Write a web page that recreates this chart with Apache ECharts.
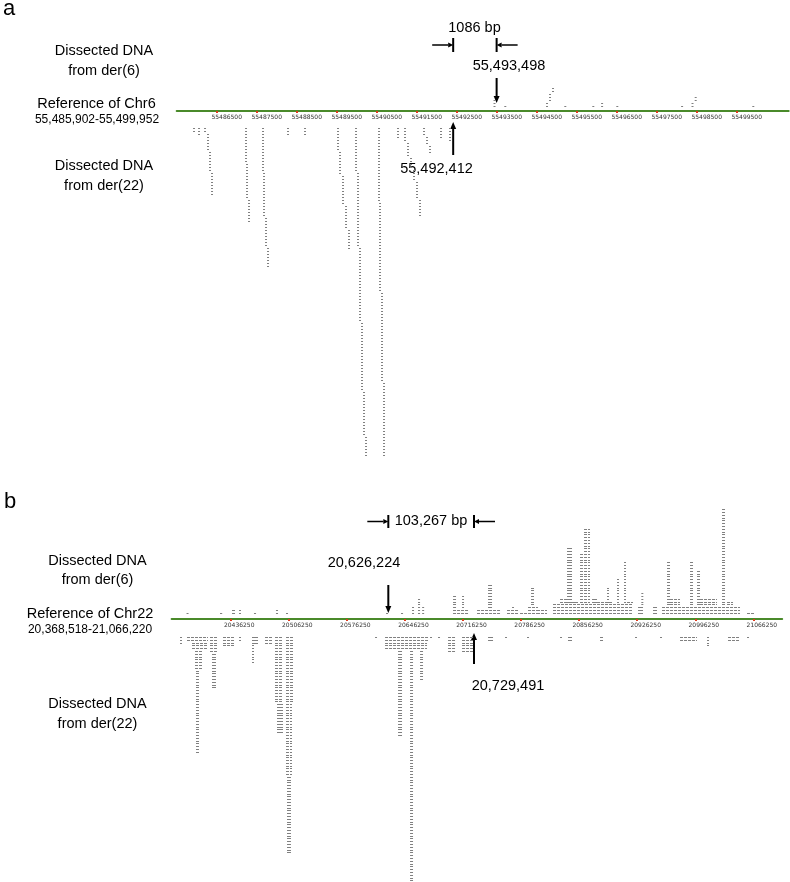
<!DOCTYPE html>
<html><head><meta charset="utf-8">
<script src="https://cdn.jsdelivr.net/npm/echarts@6/dist/echarts.min.js"></script>
<style>html,body{margin:0;padding:0;background:#fff}#c{width:790px;height:882px}</style>
</head><body><div id="c"></div>
<script>
// ---------- data ----------
const ticksA = [55486500,55487500,55488500,55489500,55490500,55491500,55492500,55493500,55494500,55495500,55496500,55497500,55498500,55499500];
const ticksB = [20436250,20506250,20576250,20646250,20716250,20786250,20856250,20926250,20996250,21066250];
const regionA = "55,485,902-55,499,952";
const regionB = "20,368,518-21,066,220";
const bpA = {der6: 55493498, der22: 55492412, gapLabel: "1086 bp"};
const bpB = {der6: 20626224, der22: 20729491, gapLabel: "103,267 bp"};

// reads: [start, end, firstRow, lastRow]  (rows counted away from the reference line)
const readsA_der6 = [
  [55493420,55493470,1,3],[55493690,55493740,1,1],
  [55494733,55494783,1,2],[55494808,55494858,3,5],[55494883,55494933,6,7],
  [55495190,55495240,1,1],[55495890,55495940,1,1],[55496110,55496160,1,2],[55496490,55496540,1,1],
  [55498110,55498160,1,1],[55498370,55498420,1,2],[55498450,55498500,3,4],[55499890,55499940,1,1]
];
const readsA_der22 = [
  [55485908,55485958,1,2],[55486033,55486083,1,3],[55486183,55486233,1,2],
  [55486258,55486308,3,8],[55486308,55486358,9,15],[55486358,55486408,16,23],
  [55487208,55487258,1,12],[55487233,55487283,13,24],[55487283,55487333,25,32],
  [55487633,55487683,1,15],[55487658,55487708,16,30],[55487708,55487758,31,40],[55487758,55487808,41,47],
  [55488258,55488308,1,3],[55488683,55488733,1,3],
  [55489508,55489558,1,8],[55489558,55489608,9,16],[55489633,55489683,17,26],[55489708,55489758,27,34],[55489783,55489833,35,41],
  [55489958,55490008,1,15],[55490008,55490058,16,40],[55490058,55490108,41,65],[55490108,55490158,66,88],[55490158,55490208,89,103],[55490208,55490258,104,110],
  [55490533,55490583,1,25],[55490558,55490608,26,55],[55490608,55490658,56,85],[55490658,55490708,86,110],
  [55491008,55491058,1,4],
  [55491183,55491233,1,5],[55491258,55491308,6,10],[55491333,55491383,11,14],[55491408,55491458,15,18],[55491483,55491533,19,24],[55491558,55491608,25,30],
  [55491658,55491708,1,3],[55491733,55491783,4,6],[55491808,55491858,7,9],
  [55492083,55492133,1,4],[55492308,55492358,1,5]
];
const readsB_der6 = [
  [20383000,20385000,1,1],[20423352,20426000,1,1],[20437817,20441433,1,2],[20446255,20448665,1,2],[20464300,20466800,1,1],
  [20490800,20493300,1,2],[20502900,20505300,1,1],[20623500,20625900,1,1],[20641500,20644000,1,1],
  [20654814,20657200,1,3],[20662000,20664500,1,6],[20667000,20669300,1,3],
  [20704235,20722317,1,2],[20704235,20707852,3,7],[20715084,20717495,3,7],
  [20733165,20760889,1,2],[20746424,20751246,3,11],
  [20769302,20782561,1,2],[20775329,20777740,3,3],[20784972,20793410,1,1],
  [20794615,20806669,1,3],[20798231,20801848,4,10],[20805464,20817518,1,2],
  [20824750,20921182,1,4],
  [20833188,20841626,5,6],[20841626,20847653,5,24],[20847653,20854885,5,5],[20857296,20860912,5,22],[20862117,20869350,5,31],
  [20871760,20877787,5,6],[20877787,20897074,5,5],[20889840,20892251,5,10],[20901895,20904306,5,13],[20910333,20912744,5,19],[20913949,20921182,5,5],
  [20927209,20933236,1,3],[20931200,20933236,4,8],[20945290,20950112,1,3],
  [20956141,21050160,1,3],[20962168,20965782,4,19],[20965782,20977836,4,6],
  [20989890,20993506,4,19],[20998328,21001944,4,16],[21001944,21022436,4,6],
  [21028463,21032080,4,38],[21034490,21041723,4,5],[21058598,21068241,1,1]
];
const readsB_der22 = [
  [20375136,20377547,1,3],[20383574,20408887,1,2],[20389601,20408887,3,5],
  [20393217,20401655,6,12],[20394400,20398039,13,42],
  [20411298,20419736,1,6],[20413700,20418500,7,19],
  [20426968,20441433,1,4],[20446255,20448665,1,2],
  [20461925,20469157,1,3],[20461925,20464336,4,10],[20477595,20486033,1,3],
  [20489649,20499292,1,24],[20502908,20511346,1,24],[20492060,20499292,25,35],
  [20502908,20510141,25,50],[20504100,20508900,51,78],
  [20610214,20612625,1,1],[20622268,20674100,1,2],[20622268,20672895,3,5],
  [20637938,20642760,6,36],[20652403,20656019,6,88],[20664457,20668073,6,16],
  [20676500,20678900,1,1],[20686100,20688565,1,1],
  [20698208,20706646,1,6],[20715084,20728343,1,6],[20746424,20752451,1,2],
  [20766891,20769300,1,1],[20793410,20795800,1,1],[20833188,20835600,1,1],[20842800,20847653,1,2],
  [20881404,20885020,1,2],[20923593,20926000,1,1],[20953728,20956141,1,1],
  [20977836,20998328,1,2],[21010382,21012800,1,4],[21035695,21050160,1,2],[21058598,21061000,1,1]
];

// ---------- styling / layout ----------
const READ = '#808080';
const GREEN = '#4a8a2a';
const chart = echarts.init(document.getElementById('c'), null, {renderer:'canvas'});

function readSeries(data, idx, side, gap) {
  return {
    type:'custom', xAxisIndex:idx, yAxisIndex:idx, data, silent:true, animation:false, clip:false,
    encode:{x:[0,1], y:2},
    renderItem(params, api){
      const s=api.value(0), e=api.value(1), r0=api.value(2), r1=api.value(3);
      const children=[];
      for(let k=r0;k<=r1;k++){
        const v = side>0 ? gap+(k-1) : -(gap+(k-1));
        const p0 = api.coord([s,v]), p1 = api.coord([e,v]);
        const w = Math.max(p1[0]-p0[0], 2);
        const y = Math.round(p0[1])+0.5;
        children.push({type:'line', shape:{x1:p0[0], y1:y, x2:p0[0]+w, y2:y},
          style:{stroke:READ, lineWidth:1, lineDash: w>6 ? [3,1] : null}});
      }
      return {type:'group', children};
    }
  };
}

function xAxisCfg(idx, min, max, ticks, pad, visible){
  return {
    type:'value', gridIndex:idx, min, max, position:'bottom', show:visible,
    axisLine:{show:true, onZero:false, lineStyle:{color:GREEN, width:2}},
    axisTick:{show:true, customValues:ticks, length:2, lineStyle:{color:'#e03a1e', width:2}},
    axisLabel:{show:true, customValues:ticks, fontSize:6, fontFamily:'DejaVu Sans', color:'#333',
      margin:3, align:'center', padding:[0,0,0,pad], formatter:v=>String(v)},
    splitLine:{show:false}
  };
}
const A = [55485500,55500800], B = [20365000,21101000];

chart.setOption({
  animation:false,
  grid:[
    {left:176.7, right:1.3, top:21, height:90},      // a: der(6) above line (line at y=111)
    {left:176.7, right:1.3, top:111, height:390},    // a: der(22) below
    {left:171.6, right:7.8, top:479, height:140},    // b: der(6) above line (line at y=619)
    {left:171.6, right:7.8, top:619, height:263.2}   // b: der(22) below
  ],
  xAxis:[ xAxisCfg(0,A[0],A[1],ticksA,20,true), xAxisCfg(1,A[0],A[1],ticksA,20,false),
          xAxisCfg(2,B[0],B[1],ticksB,17,true), xAxisCfg(3,B[0],B[1],ticksB,17,false) ],
  yAxis:[
    {type:'value', gridIndex:0, min:0, max:30, show:false, splitLine:{show:false}},
    {type:'value', gridIndex:1, min:-130, max:0, show:false, splitLine:{show:false}},
    {type:'value', gridIndex:2, min:0, max:50, show:false, splitLine:{show:false}},
    {type:'value', gridIndex:3, min:-94, max:0, show:false, splitLine:{show:false}}
  ],
  series:[
    readSeries(readsA_der6,0,1,1.67),
    readSeries(readsA_der22,1,-1,5.67),
    readSeries(readsB_der6,2,1,2.25),
    readSeries(readsB_der22,3,-1,6.43)
  ]
});

const FONT = 'Liberation Sans, Arial, sans-serif';
function txt(t,x,y,size,align){
  return {type:'text', x, y, silent:true, style:{text:t, fontSize:size||14.5, fontFamily:FONT, fill:'#000',
    align:align||'center', verticalAlign:'middle'}};
}
function vArrow(x, yTail, yTip){
  const d = yTip>yTail?1:-1, hl=7, hw=3;
  return [
    {type:'line', silent:true, shape:{x1:x,y1:yTail,x2:x,y2:yTip-d*hl}, style:{stroke:'#000',lineWidth:2}},
    {type:'polygon', silent:true, shape:{points:[[x-hw,yTip-d*hl],[x+hw,yTip-d*hl],[x,yTip]]}, style:{fill:'#000'}}
  ];
}
function hArrow(xTail, xTip, y){
  const d = xTip>xTail?1:-1, hl=5, hw=2.5;
  return [
    {type:'line', silent:true, shape:{x1:xTail,y1:y,x2:xTip-d*hl,y2:y}, style:{stroke:'#000',lineWidth:1.5}},
    {type:'polygon', silent:true, shape:{points:[[xTip-d*hl,y-hw],[xTip-d*hl,y+hw],[xTip,y]]}, style:{fill:'#000'}}
  ];
}
function bar(x,y0,y1){ return {type:'line', silent:true, shape:{x1:x,y1:y0,x2:x,y2:y1}, style:{stroke:'#000',lineWidth:2}}; }
function fmt(n){ return n.toLocaleString('en-US'); }

const ax6 = chart.convertToPixel({xAxisIndex:0}, bpA.der6);
const ax22 = chart.convertToPixel({xAxisIndex:0}, bpA.der22);
const bx6 = chart.convertToPixel({xAxisIndex:2}, bpB.der6);
const bx22 = chart.convertToPixel({xAxisIndex:2}, bpB.der22);

const els = [
  txt('a',3,9,22,'left'),
  txt('Dissected DNA',104,51), txt('from der(6)',104,71),
  txt('Reference of Chr6',96.5,104), txt(regionA,97,119.5,12),
  txt('Dissected DNA',104,166), txt('from der(22)',104,186),
  txt(bpA.gapLabel,474.5,28), txt(fmt(bpA.der6),509,66), txt(fmt(bpA.der22),436.5,169),
  bar(ax22,38,52), bar(ax6,38,52),
  ...hArrow(ax22-21, ax22, 45), ...hArrow(ax6+21, ax6, 45),
  ...vArrow(ax6,78,103), ...vArrow(ax22,155,122),

  txt('b',4,502,22,'left'),
  txt('Dissected DNA',97.5,561), txt('from der(6)',97.5,580),
  txt('Reference of Chr22',90,614), txt(regionB,90,630,12),
  txt('Dissected DNA',97.5,704), txt('from der(22)',97.5,724),
  txt(bpB.gapLabel,431,521), txt(fmt(bpB.der6),364,563), txt(fmt(bpB.der22),508,686),
  bar(bx6,515,528), bar(bx22,515,528),
  ...hArrow(bx6-21, bx6, 521.5), ...hArrow(bx22+21, bx22, 521.5),
  ...vArrow(bx6,585,613), ...vArrow(bx22,664,633)
];
chart.setOption({graphic:{elements:els}});
</script></body></html>
